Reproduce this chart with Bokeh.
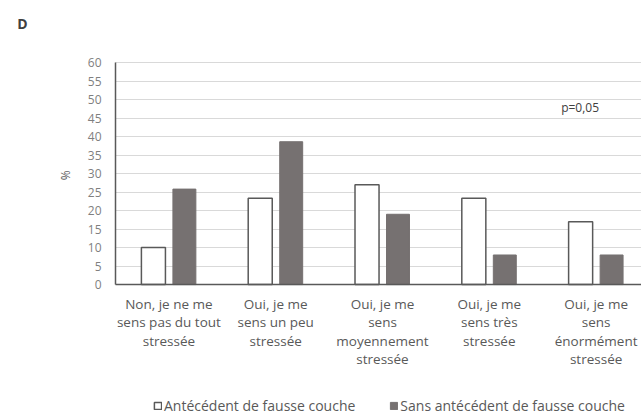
import math
from bokeh.plotting import figure
from bokeh.models import (Range1d, FixedTicker, Legend, LegendItem, Label, ColumnDataSource,
                          LinearAxis)
from bokeh.embed import file_html
from bokeh.resources import INLINE

categories = [
    "Non, je ne me\nsens pas du tout\nstressée",
    "Oui, je me\nsens un peu\nstressée",
    "Oui, je me\nsens\nmoyennement\nstressée",
    "Oui, je me\nsens très\nstressée",
    "Oui, je me\nsens\nénormément\nstressée",
]
avec_antecedent = [10, 23.3, 27, 23.3, 17]
sans_antecedent = [25.8, 38.6, 19, 8, 8]
series_names = ["Antécédent de fausse couche", "Sans antécédent de fausse couche"]
y_ticks = list(range(0, 61, 5))

FONT = "Open Sans"
TXT = "#595959"

idx = list(range(len(categories)))
src = ColumnDataSource(dict(
    x1=[i - 0.145 for i in idx],
    x2=[i + 0.145 for i in idx],
    a=avec_antecedent,
    s=sans_antecedent,
))

# the frame fills the whole page; axes are pinned at x=-0.5 and y=0
p = figure(width=641, height=414, output_backend="svg", toolbar_location=None,
           x_range=Range1d(-1.5768, 4.425), y_range=Range1d(-35.1, 76.76),
           x_axis_location=None, y_axis_location=None,
           min_border_left=0, min_border_right=0, min_border_top=0, min_border_bottom=0)
p.outline_line_color = None
p.background_fill_color = "white"
p.border_fill_color = "white"

r1 = p.vbar(x="x1", top="a", width=0.225, source=src, fill_color="white",
            line_color="#595959", line_width=1.5)
r2 = p.vbar(x="x2", top="s", width=0.215, source=src, fill_color="#767171",
            line_color="#767171", line_width=1)

yaxis = LinearAxis(fixed_location=-0.5, ticker=FixedTicker(ticks=y_ticks), bounds=(0, 60))
yaxis.major_label_text_font = FONT
yaxis.major_label_text_font_size = "12px"
yaxis.major_label_text_color = "#7f7f7f"
yaxis.major_label_standoff = 14
yaxis.major_tick_out = 0
yaxis.major_tick_in = 0
yaxis.minor_tick_out = 0
yaxis.minor_tick_in = 0
yaxis.axis_line_color = "#595959"
yaxis.axis_line_width = 1.5
p.add_layout(yaxis, "left")

xaxis = LinearAxis(fixed_location=0, ticker=FixedTicker(ticks=idx), bounds=(-0.5, 4.425),
                   major_label_overrides={i: c for i, c in zip(idx, categories)})
xaxis.major_label_text_font = FONT
xaxis.major_label_text_font_size = "13.5px"
xaxis.major_label_text_color = TXT
xaxis.major_label_text_line_height = 1.03
xaxis.major_label_standoff = 10
xaxis.major_tick_out = 0
xaxis.major_tick_in = 0
xaxis.minor_tick_out = 0
xaxis.minor_tick_in = 0
xaxis.axis_line_color = "#595959"
xaxis.axis_line_width = 1.5
p.add_layout(xaxis, "below")

p.xgrid.grid_line_color = None
for g in p.ygrid:
    g.ticker = FixedTicker(ticks=y_ticks)
    g.grid_line_color = "#d9d9d9"
    g.grid_line_width = 1.2
    if "cross_bounds" in g.properties():
        g.cross_bounds = (-0.5, 4.425)

legend = Legend(items=[LegendItem(label=series_names[0], renderers=[r1]),
                       LegendItem(label=series_names[1], renderers=[r2])],
                orientation="horizontal", location=(153, -1),
                label_text_font=FONT, label_text_font_size="14px", label_text_color=TXT,
                glyph_width=9, glyph_height=9, spacing=34, padding=0, margin=0,
                label_standoff=2, background_fill_alpha=0, border_line_color=None)
p.add_layout(legend, "center")

p.add_layout(Label(x=3.85, y=47.8, text="p=0,05", text_font=FONT, text_font_size="12px",
                   text_color="#404040", text_align="center", text_baseline="middle"))
p.add_layout(Label(x=-1.371, y=70.5, text="D", text_font=FONT, text_font_size="14px",
                   text_font_style="bold", text_color="#404040", text_align="center",
                   text_baseline="middle"))
p.add_layout(Label(x=-0.968, y=29.5, text="%", angle=math.pi / 2, text_font=FONT,
                   text_font_size="12px", text_color=TXT, text_align="center",
                   text_baseline="middle"))

open("out.html", "w").write(file_html(p, INLINE))
